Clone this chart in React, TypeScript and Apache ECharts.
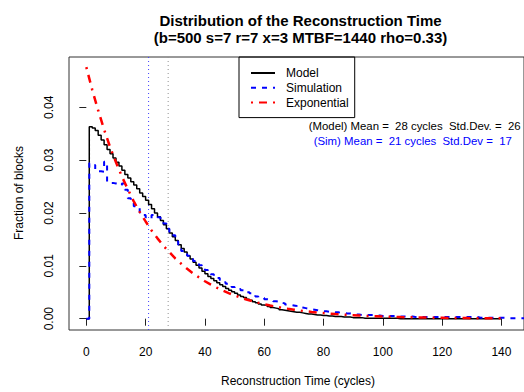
import React, { useEffect, useRef } from "react";
import * as echarts from "echarts";

// Model (step curve), value at x = index (cycles 0..140)
const modelValues = [
  0, 0.0363, 0.0361, 0.0356, 0.0347, 0.0338, 0.0329, 0.032, 0.0312, 0.0304,
  0.0296, 0.0289, 0.0281, 0.0273, 0.0266, 0.0259, 0.0253, 0.0246, 0.0238, 0.0231,
  0.0224, 0.0216, 0.0208, 0.02, 0.0193, 0.0186, 0.0178, 0.017, 0.0162, 0.0155,
  0.0148, 0.014, 0.0133, 0.0126, 0.0119, 0.0113, 0.0107, 0.0101, 0.0096, 0.009,
  0.0085, 0.008, 0.0076, 0.0072, 0.0068, 0.0064, 0.0061, 0.0057, 0.0054, 0.0051,
  0.0048, 0.0045, 0.0042, 0.004, 0.0037, 0.0035, 0.0032, 0.003, 0.0028, 0.0026,
  0.0025, 0.0023, 0.0021, 0.002, 0.0019, 0.0017, 0.0016, 0.0015, 0.0014, 0.0013,
  0.0012, 0.0012, 0.0011, 0.001, 0.0009, 0.0009, 0.0008, 0.0007, 0.0007, 0.0006,
  0.0006, 0.0005, 0.0005, 0.0004, 0.0004, 0.0004, 0.0003, 0.0003, 0.0003, 0.0002,
  0.0002, 0.0002, 0.0002, 0.0001, 0.0001, 0.0001, 0.0001, 0.0001, 0.0001, 0.0001,
  0.0001, 0.0001, 0.0001, 0.0001, 0.0001, 0, 0, 0, 0, 0,
  0, 0, 0, 0, 0, 0, 0, 0, 0, 0,
  0, 0, 0, 0, 0, 0, 0, 0, 0, 0,
  0, 0, 0, 0, 0, 0, 0, 0, 0, 0,
  0,
];

// Simulation (step curve), value at x = index (cycles 0..150)
const simValues = [
  0, 0.0294, 0.0291, 0.0282, 0.0279, 0.0278, 0.0297, 0.0259, 0.0257, 0.0256,
  0.0255, 0.0253, 0.0256, 0.0244, 0.0228, 0.0219, 0.0213, 0.0212, 0.0201, 0.0196,
  0.0192, 0.019, 0.0196, 0.0194, 0.0192, 0.0187, 0.018, 0.017, 0.0164, 0.0158,
  0.0146, 0.0136, 0.0128, 0.0124, 0.0119, 0.0113, 0.0109, 0.0105, 0.0101, 0.0096,
  0.0092, 0.0088, 0.0084, 0.008, 0.0077, 0.0073, 0.0069, 0.0066, 0.0063, 0.006,
  0.0058, 0.0056, 0.0054, 0.0052, 0.005, 0.0048, 0.0045, 0.0042, 0.004, 0.0039,
  0.0037, 0.0036, 0.0035, 0.0033, 0.0032, 0.003, 0.0029, 0.0027, 0.0026, 0.0025,
  0.0024, 0.0022, 0.0021, 0.002, 0.0019, 0.0018, 0.0017, 0.0016, 0.0015, 0.0014,
  0.0014, 0.0013, 0.0013, 0.0012, 0.0012, 0.0011, 0.0011, 0.001, 0.001, 0.0009,
  0.0008, 0.0008, 0.0007, 0.0007, 0.0007, 0.0007, 0.0007, 0.0006, 0.0006, 0.0005,
  0.0005, 0.0005, 0.0005, 0.0005, 0.0004, 0.0004, 0.0004, 0.0004, 0.0004, 0.0004,
  0.0003, 0.0003, 0.0003, 0.0003, 0.0003, 0.0003, 0.0003, 0.0003, 0.0003, 0.0003,
  0.0003, 0.0003, 0.0003, 0.0003, 0.0003, 0.0003, 0.0003, 0.0003, 0.0003, 0.0003,
  0.0003, 0.0003, 0.0002, 0.0002, 0.0002, 0.0002, 0.0002, 0.0002, 0.0002, 0.0002,
  0.0002, 0.0002, 0.0001, 0.0001, 0.0001, 0.0001, 0.0001, 0.0001, 0.0001, 0.0001,
  0.0001,
];

// Exponential curve, sampled every 2 cycles (0..140)
const expX = [
  0, 2, 4, 6, 8, 10, 12, 14, 16, 18, 20, 22, 24, 26, 28, 30, 32, 34, 36, 38,
  40, 42, 44, 46, 48, 50, 52, 54, 56, 58, 60, 62, 64, 66, 68, 70, 72, 74, 76, 78,
  80, 82, 84, 86, 88, 90, 92, 94, 96, 98, 100, 102, 104, 106, 108, 110, 112, 114,
  116, 118, 120, 122, 124, 126, 128, 130, 132, 134, 136, 138, 140,
];
const expValues = [
  0.0476, 0.0433, 0.0394, 0.0358, 0.0325, 0.0296, 0.0269, 0.0245, 0.0222, 0.0202,
  0.0184, 0.0167, 0.0152, 0.0138, 0.0126, 0.0114, 0.0104, 0.00944, 0.00858, 0.0078,
  0.00709, 0.00645, 0.00586, 0.00533, 0.00485, 0.00441, 0.00401, 0.00364, 0.00331, 0.00301,
  0.00274, 0.00249, 0.00226, 0.00206, 0.00187, 0.0017, 0.00155, 0.00141, 0.00128, 0.00116,
  0.00106, 0.00096, 0.00087, 0.00079, 0.00072, 0.00066, 0.0006, 0.00054, 0.00049, 0.00045,
  0.00041, 0.00037, 0.00034, 0.0003, 0.00028, 0.00025, 0.00023, 0.00021, 0.00019, 0.00017,
  0.00016, 0.00014, 0.00013, 0.00012, 0.00011, 0.0001, 0.00009, 0.00008, 0.00007, 0.00007,
  0.00006,
];

const xTicks = [0, 20, 40, 60, 80, 100, 120, 140];
const yTicks = [0, 0.01, 0.02, 0.03, 0.04];
const meanModel = 27.6;
const meanSim = 21;

const X_MIN = -5.84;
const X_MAX = 147.6;
const Y_MIN = -0.00214;
const Y_MAX = 0.04952;

const titleLines = [
  "Distribution of the Reconstruction Time",
  "(b=500 s=7 r=7 x=3 MTBF=1440 rho=0.33)",
];
const annotModel = "(Model) Mean =  28 cycles  Std.Dev. =  26";
const annotSim = "(Sim) Mean =  21 cycles  Std.Dev =  17";

const FONT = "'Liberation Sans', Arial, Helvetica, sans-serif";

export default function App() {
  const ref = useRef<HTMLDivElement>(null);
  useEffect(() => {
    if (!ref.current) return;
    const chart = echarts.init(ref.current, null, { renderer: "svg" });
    const vline = (x: number, color: string) => ({
      type: "line",
      symbol: "none",
      silent: true,
      z: 1,
      data: [
        [x, Y_MIN],
        [x, Y_MAX],
      ],
      lineStyle: { color, width: 1, type: [1, 3] },
      itemStyle: { color },
    });
    const option: any = {
      animation: false,
      backgroundColor: "#ffffff",
      textStyle: { fontFamily: FONT },
      grid: {
        left: 69,
        top: 57,
        right: -10,
        bottom: 62,
        show: true,
        borderColor: "#333",
        borderWidth: 1,
        backgroundColor: "transparent",
      },
      xAxis: {
        type: "value",
        min: X_MIN,
        max: X_MAX,
        axisLine: { show: false },
        splitLine: { show: false },
        axisTick: {
          show: true,
          length: 7,
          customValues: xTicks,
          lineStyle: { color: "#222", width: 1 },
        },
        axisLabel: {
          customValues: xTicks,
          margin: 16,
          fontSize: 12,
          color: "#000",
          fontFamily: FONT,
        },
      },
      yAxis: {
        type: "value",
        min: Y_MIN,
        max: Y_MAX,
        axisLine: { show: false },
        splitLine: { show: false },
        axisTick: {
          show: true,
          length: 7,
          customValues: yTicks,
          lineStyle: { color: "#222", width: 1 },
        },
        axisLabel: {
          customValues: yTicks,
          rotate: 90,
          margin: 14,
          fontSize: 12,
          color: "#000",
          fontFamily: FONT,
          formatter: (v: number) => v.toFixed(2),
        },
      },
      legend: {
        data: ["Model", "Simulation", "Exponential"],
        orient: "vertical",
        left: 239,
        top: 57,
        borderColor: "#000",
        borderWidth: 1,
        borderRadius: 0,
        padding: [9, 6, 8, 11],
        itemWidth: 24,
        itemHeight: 14,
        itemGap: 0.8,
        itemStyle: { opacity: 0, borderWidth: 0 },
        textStyle: {
          fontSize: 12,
          color: "#000",
          fontFamily: FONT,
          lineHeight: 14,
          padding: [0, 0, 0, 6],
        },
      },
      series: [
        { name: "meanSim", ...vline(meanSim, "#4040ff") },
        { name: "meanModel", ...vline(meanModel, "#909090") },
        {
          name: "Model",
          type: "line",
          step: "end",
          symbol: "none",
          data: modelValues.map((v, i) => [i, v]),
          lineStyle: { color: "#000", width: 1.5 },
          itemStyle: { color: "#000" },
        },
        {
          name: "Simulation",
          type: "line",
          step: "end",
          symbol: "none",
          data: simValues.map((v, i) => [i, v]),
          lineStyle: { color: "#0000ff", width: 2, type: [5, 6] },
          itemStyle: { color: "#0000ff" },
        },
        {
          name: "Exponential",
          type: "line",
          symbol: "none",
          data: expValues.map((v, i) => [expX[i], v]),
          lineStyle: { color: "#ff0000", width: 2.5, type: [2, 6, 8, 6] },
          itemStyle: { color: "#ff0000" },
        },
      ],
      graphic: [
        {
          type: "text",
          x: 300.5,
          y: 20,
          style: {
            text: titleLines[0],
            font: `bold 15px ${FONT}`,
            fill: "#000",
            textAlign: "center",
            textVerticalAlign: "middle",
          },
        },
        {
          type: "text",
          x: 300.5,
          y: 37,
          style: {
            text: titleLines[1],
            font: `bold 15px ${FONT}`,
            fill: "#000",
            textAlign: "center",
            textVerticalAlign: "middle",
          },
        },
        {
          type: "text",
          x: 298,
          y: 381,
          style: {
            text: "Reconstruction Time (cycles)",
            font: `12px ${FONT}`,
            fill: "#000",
            textAlign: "center",
            textVerticalAlign: "middle",
          },
        },
        {
          type: "text",
          x: 19,
          y: 193,
          rotation: Math.PI / 2,
          style: {
            text: "Fraction of blocks",
            font: `12px ${FONT}`,
            fill: "#000",
            textAlign: "center",
            textVerticalAlign: "middle",
          },
        },
        {
          type: "text",
          x: 308.7,
          y: 126,
          style: {
            text: annotModel,
            font: `11.4px ${FONT}`,
            fill: "#000",
            textAlign: "left",
            textVerticalAlign: "middle",
          },
        },
        {
          type: "text",
          x: 313.7,
          y: 140.7,
          style: {
            text: annotSim,
            font: `11.4px ${FONT}`,
            fill: "#0000ff",
            textAlign: "left",
            textVerticalAlign: "middle",
          },
        },
      ],
    };
    chart.setOption(option);
    return () => chart.dispose();
  }, []);
  return (
    <div
      ref={ref}
      style={{ position: "fixed", left: 0, top: 0, width: 524, height: 392, background: "#fff" }}
    />
  );
}
